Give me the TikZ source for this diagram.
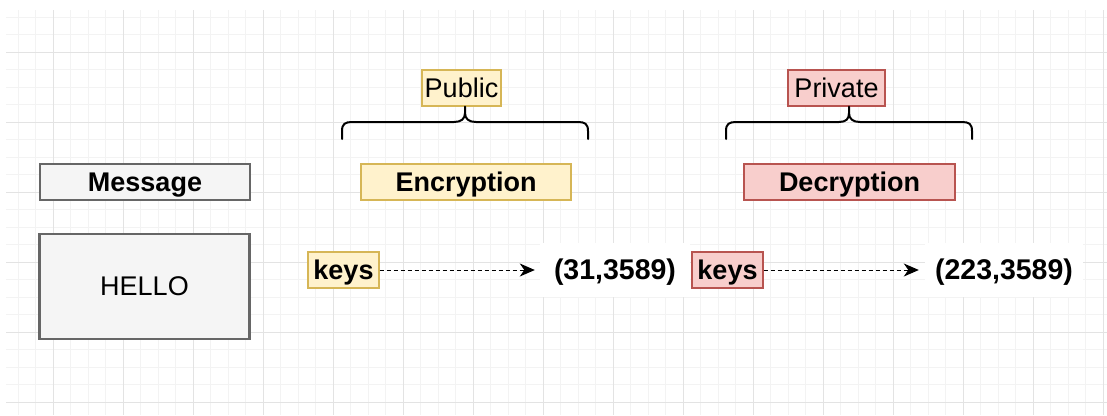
\documentclass[tikz,border=0pt]{standalone}
\usepackage{fontspec}
\setmainfont{Liberation Sans}
\usetikzlibrary{arrows.meta}
\definecolor{gridminor}{HTML}{F3F3F3}
\definecolor{gridmajor}{HTML}{E3E3E3}
\definecolor{greyfill}{HTML}{F5F5F5}
\definecolor{greyline}{HTML}{666666}
\definecolor{yelfill}{HTML}{FFF2CC}
\definecolor{yelline}{HTML}{D6B656}
\definecolor{redfill}{HTML}{F8CECC}
\definecolor{redline}{HTML}{B85450}
\tikzset{
  txt/.style={font=\fontsize{27}{30}\selectfont, inner sep=0pt, anchor=center, text height=24.3pt, text depth=5.6pt},
  bold/.style={txt, font=\fontsize{27}{30}\selectfont\bfseries},
  greybox/.style={draw=greyline, fill=greyfill, line width=1.2pt},
  yelbox/.style={draw=yelline, fill=yelfill, line width=1.2pt},
  redbox/.style={draw=redline, fill=redfill, line width=1.2pt},
  valbox/.style={fill=white, inner sep=0pt, font=\fontsize{28.5}{30}\selectfont\bfseries, text height=25.65pt, text depth=5.9pt},
  keyarrow/.style={line width=1pt, dash pattern=on 4pt off 3pt, -{Stealth[length=15pt,width=13pt,inset=4.5pt]}},
  brace/.style={line width=2pt, line cap=round, line join=round},
  minorline/.style={gridminor, line width=1pt},
  majorline/.style={gridmajor, line width=1pt}
}
\begin{document}
\begin{tikzpicture}[x=1pt,y=-1pt]
\useasboundingbox (0,0) rectangle (1107,415);
\fill[white] (0,0) rectangle (1107,415);
% grid
\begin{scope}
\clip (6,10) rectangle (1107,415);
\foreach \i in {0,...,62} { \draw[minorline] ({18+17.5*\i},10) -- ({18+17.5*\i},415); }
\foreach \i in {0,...,22} { \draw[minorline] (6,{17+17.5*\i}) -- (1107,{17+17.5*\i}); }
\foreach \i in {0,...,15} { \draw[majorline] ({53+70*\i},10) -- ({53+70*\i},415); }
\foreach \i in {0,...,5} { \draw[majorline] (6,{52+70*\i}) -- (1107,{52+70*\i}); }
\end{scope}
% nodes
\node[txt, bold, greybox, minimum width=210pt, minimum height=36pt] (msg) at (145,182) {Message};
\node[txt, draw=greyline, fill=greyfill, line width=2.5pt, minimum width=210pt, minimum height=105pt] (hello) at (144.5,286.5) {HELLO};
\node[txt, yelbox, minimum width=79pt, minimum height=36pt] (pub) at (461.5,88) {Public};
\node[txt, bold, yelbox, minimum width=210pt, minimum height=36pt] (enc) at (466,182) {Encryption};
\node[txt, redbox, minimum width=97pt, minimum height=36pt] (priv) at (836.5,88) {Private};
\node[txt, bold, redbox, minimum width=211pt, minimum height=36pt] (dec) at (849.5,182) {Decryption};
\node[txt, bold, yelbox, minimum width=71pt, minimum height=36pt] (k1) at (343.5,270) {keys};
\node[txt, bold, redbox, minimum width=71pt, minimum height=36pt] (k2) at (727.5,270) {keys};
\node[valbox, minimum width=150pt, minimum height=54pt] (v1) at (615,270) {(31,3589)};
\node[valbox, minimum width=158pt, minimum height=54pt] (v2) at (1004,270) {(223,3589)};
% arrows
\draw[keyarrow, shorten >=5pt] (k1.east) -- (v1.west);
\draw[keyarrow, shorten >=6pt] (k2.east) -- (v2.west);
% braces
\draw[brace] (342,139) -- (342,131) .. controls (342,124) and (345,122) .. (352,122) -- (454,122)
  .. controls (461,122) and (465,119) .. (465,113) -- (pub.south -| 465,0)
  (465,113) .. controls (465,119) and (469,122) .. (476,122) -- (578,122)
  .. controls (585,122) and (588,124) .. (588,131) -- (588,139);
\draw[brace] (726,139) -- (726,131) .. controls (726,124) and (729,122) .. (736,122) -- (839,122)
  .. controls (846,122) and (849,119) .. (849,113) -- (priv.south -| 849,0)
  (849,113) .. controls (849,119) and (853,122) .. (860,122) -- (962,122)
  .. controls (969,122) and (972,124) .. (972,131) -- (972,139);
\end{tikzpicture}
\end{document}
